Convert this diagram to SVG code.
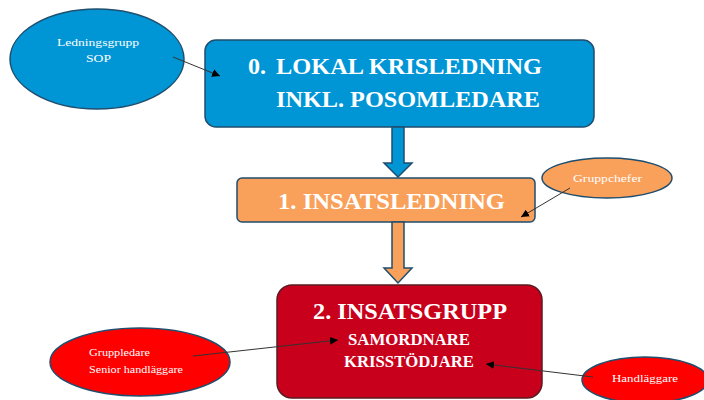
<svg xmlns="http://www.w3.org/2000/svg" width="704" height="400" viewBox="0 0 704 400">
<defs>
<marker id="ah" viewBox="0 0 10 10" refX="10" refY="5" markerWidth="8" markerHeight="8" orient="auto" markerUnits="userSpaceOnUse">
<path d="M0,0 L10,5 L0,10 z" fill="#000"/>
</marker>
<style>
text{fill:#fff;font-family:"Liberation Serif","Times New Roman",serif}
.big{font-size:24px;font-weight:bold}
.mid{font-size:16px;font-weight:bold}
.sm{font-size:11px}
.ell{stroke:#1F4E6E;stroke-width:1.5}
.box{stroke:#1F4E6E;stroke-width:1.5}
.conn{stroke:#333;stroke-width:1;fill:none}
</style>
</defs>
<rect width="704" height="400" fill="#fff"/>
<g id="box0">
<rect class="box" x="205" y="40" width="389" height="87" rx="11" fill="#0096D6"/>
<text class="big" x="248" y="74" textLength="18" lengthAdjust="spacingAndGlyphs">0.</text>
<text class="big" x="276" y="74" textLength="266" lengthAdjust="spacingAndGlyphs">LOKAL KRISLEDNING</text>
<text class="big" x="276" y="107" textLength="264" lengthAdjust="spacingAndGlyphs">INKL. POSOMLEDARE</text>
</g>
<g id="box1">
<rect class="box" x="237" y="178" width="298" height="44" rx="5" fill="#F9A05A"/>
<text class="big" x="278" y="209" textLength="227" lengthAdjust="spacingAndGlyphs">1. INSATSLEDNING</text>
</g>
<g id="box2">
<rect x="277" y="285" width="265" height="113" rx="15" fill="#C9001B" stroke="#5A1A20" stroke-width="1.5"/>
<text class="big" x="313" y="319" textLength="194" lengthAdjust="spacingAndGlyphs">2. INSATSGRUPP</text>
<text class="mid" x="348" y="345" textLength="122" lengthAdjust="spacingAndGlyphs">SAMORDNARE</text>
<text class="mid" x="344" y="367" textLength="130" lengthAdjust="spacingAndGlyphs">KRISSTÖDJARE</text>
</g>
<g id="ell-ledningsgrupp">
<ellipse class="ell" cx="97" cy="59" rx="87" ry="50" fill="#0096D6"/>
<text class="sm" x="57" y="46" textLength="82" lengthAdjust="spacingAndGlyphs">Ledningsgrupp</text>
<text class="sm" x="86" y="62" textLength="25" lengthAdjust="spacingAndGlyphs">SOP</text>
</g>
<g id="ell-gruppchefer">
<ellipse class="ell" cx="607" cy="178" rx="65" ry="20" fill="#F9A05A"/>
<text class="sm" x="573" y="182" textLength="69" lengthAdjust="spacingAndGlyphs">Gruppchefer</text>
</g>
<g id="ell-gruppledare">
<ellipse class="ell" cx="140" cy="362" rx="90" ry="34" fill="#FF0000"/>
<text class="sm" x="89" y="356" textLength="61" lengthAdjust="spacingAndGlyphs">Gruppledare</text>
<text class="sm" x="89" y="373" textLength="94" lengthAdjust="spacingAndGlyphs">Senior handläggare</text>
</g>
<g id="ell-handlaggare">
<ellipse class="ell" cx="645" cy="380" rx="63" ry="23" fill="#FF0000"/>
<text class="sm" x="612" y="382" textLength="66" lengthAdjust="spacingAndGlyphs">Handläggare</text>
</g>
<g id="connectors">
<path d="M392,127 V163 H384 L398,177 L412,163 H404 V127 Z" fill="#0096D6" stroke="#1F4E6E" stroke-width="1.5"/>
<path d="M392,222 V268 H384 L398,283 L412,268 H404 V222 Z" fill="#F9A05A" stroke="#1F4E6E" stroke-width="1.5"/>
<line class="conn" x1="173" y1="57" x2="220" y2="76" marker-end="url(#ah)"/>
<line class="conn" x1="570" y1="188" x2="521" y2="217" marker-end="url(#ah)"/>
<line class="conn" x1="193" y1="356" x2="338" y2="340" marker-end="url(#ah)"/>
<line class="conn" x1="593" y1="377" x2="486" y2="364" marker-end="url(#ah)"/>
</g>
</svg>
